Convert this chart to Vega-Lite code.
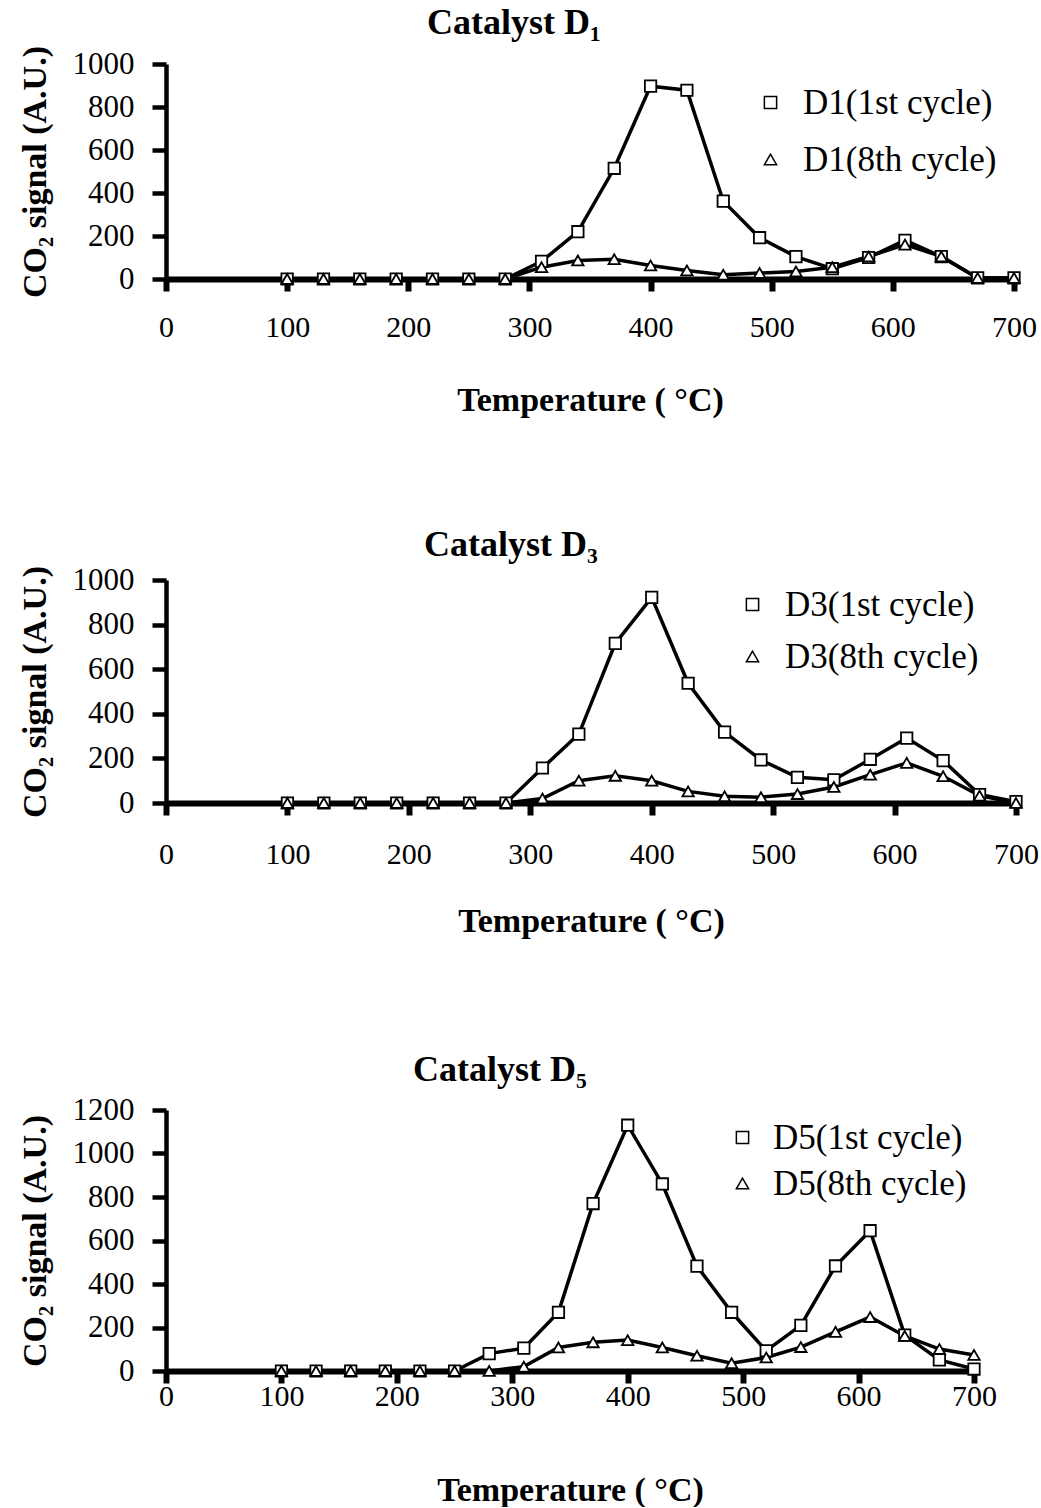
{
  "$schema": "https://vega.github.io/schema/vega-lite/v6.json",
  "padding": {"left": 18, "top": 4, "right": 0, "bottom": 0},
  "background": "white",
  "spacing": 110,
  "resolve": {"scale": {"shape": "independent"}, "legend": {"shape": "independent"}},
  "datasets": {
    "d1": [
      {"temperature": 100, "series": "D1(1st cycle)", "signal": 0},
      {"temperature": 130, "series": "D1(1st cycle)", "signal": 0},
      {"temperature": 160, "series": "D1(1st cycle)", "signal": 0},
      {"temperature": 190, "series": "D1(1st cycle)", "signal": 0},
      {"temperature": 220, "series": "D1(1st cycle)", "signal": 0},
      {"temperature": 250, "series": "D1(1st cycle)", "signal": 0},
      {"temperature": 280, "series": "D1(1st cycle)", "signal": 0},
      {"temperature": 310, "series": "D1(1st cycle)", "signal": 82},
      {"temperature": 340, "series": "D1(1st cycle)", "signal": 220},
      {"temperature": 370, "series": "D1(1st cycle)", "signal": 515},
      {"temperature": 400, "series": "D1(1st cycle)", "signal": 897},
      {"temperature": 430, "series": "D1(1st cycle)", "signal": 878},
      {"temperature": 460, "series": "D1(1st cycle)", "signal": 362},
      {"temperature": 490, "series": "D1(1st cycle)", "signal": 192},
      {"temperature": 520, "series": "D1(1st cycle)", "signal": 104},
      {"temperature": 550, "series": "D1(1st cycle)", "signal": 48},
      {"temperature": 580, "series": "D1(1st cycle)", "signal": 100},
      {"temperature": 610, "series": "D1(1st cycle)", "signal": 180},
      {"temperature": 640, "series": "D1(1st cycle)", "signal": 104},
      {"temperature": 670, "series": "D1(1st cycle)", "signal": 5},
      {"temperature": 700, "series": "D1(1st cycle)", "signal": 5},
      {"temperature": 100, "series": "D1(8th cycle)", "signal": 0},
      {"temperature": 130, "series": "D1(8th cycle)", "signal": 0},
      {"temperature": 160, "series": "D1(8th cycle)", "signal": 0},
      {"temperature": 190, "series": "D1(8th cycle)", "signal": 0},
      {"temperature": 220, "series": "D1(8th cycle)", "signal": 0},
      {"temperature": 250, "series": "D1(8th cycle)", "signal": 0},
      {"temperature": 280, "series": "D1(8th cycle)", "signal": 0},
      {"temperature": 310, "series": "D1(8th cycle)", "signal": 55},
      {"temperature": 340, "series": "D1(8th cycle)", "signal": 86},
      {"temperature": 370, "series": "D1(8th cycle)", "signal": 92},
      {"temperature": 400, "series": "D1(8th cycle)", "signal": 63},
      {"temperature": 430, "series": "D1(8th cycle)", "signal": 40},
      {"temperature": 460, "series": "D1(8th cycle)", "signal": 20},
      {"temperature": 490, "series": "D1(8th cycle)", "signal": 28},
      {"temperature": 520, "series": "D1(8th cycle)", "signal": 35},
      {"temperature": 550, "series": "D1(8th cycle)", "signal": 55},
      {"temperature": 580, "series": "D1(8th cycle)", "signal": 105},
      {"temperature": 610, "series": "D1(8th cycle)", "signal": 160},
      {"temperature": 640, "series": "D1(8th cycle)", "signal": 105},
      {"temperature": 670, "series": "D1(8th cycle)", "signal": 5},
      {"temperature": 700, "series": "D1(8th cycle)", "signal": 5}
    ],
    "d3": [
      {"temperature": 100, "series": "D3(1st cycle)", "signal": 0},
      {"temperature": 130, "series": "D3(1st cycle)", "signal": 0},
      {"temperature": 160, "series": "D3(1st cycle)", "signal": 0},
      {"temperature": 190, "series": "D3(1st cycle)", "signal": 0},
      {"temperature": 220, "series": "D3(1st cycle)", "signal": 0},
      {"temperature": 250, "series": "D3(1st cycle)", "signal": 0},
      {"temperature": 280, "series": "D3(1st cycle)", "signal": 0},
      {"temperature": 310, "series": "D3(1st cycle)", "signal": 157},
      {"temperature": 340, "series": "D3(1st cycle)", "signal": 309},
      {"temperature": 370, "series": "D3(1st cycle)", "signal": 716},
      {"temperature": 400, "series": "D3(1st cycle)", "signal": 922},
      {"temperature": 430, "series": "D3(1st cycle)", "signal": 537},
      {"temperature": 460, "series": "D3(1st cycle)", "signal": 318},
      {"temperature": 490, "series": "D3(1st cycle)", "signal": 193},
      {"temperature": 520, "series": "D3(1st cycle)", "signal": 115},
      {"temperature": 550, "series": "D3(1st cycle)", "signal": 104},
      {"temperature": 580, "series": "D3(1st cycle)", "signal": 196},
      {"temperature": 610, "series": "D3(1st cycle)", "signal": 291},
      {"temperature": 640, "series": "D3(1st cycle)", "signal": 190},
      {"temperature": 670, "series": "D3(1st cycle)", "signal": 38},
      {"temperature": 700, "series": "D3(1st cycle)", "signal": 6},
      {"temperature": 100, "series": "D3(8th cycle)", "signal": 0},
      {"temperature": 130, "series": "D3(8th cycle)", "signal": 0},
      {"temperature": 160, "series": "D3(8th cycle)", "signal": 0},
      {"temperature": 190, "series": "D3(8th cycle)", "signal": 0},
      {"temperature": 220, "series": "D3(8th cycle)", "signal": 0},
      {"temperature": 250, "series": "D3(8th cycle)", "signal": 0},
      {"temperature": 280, "series": "D3(8th cycle)", "signal": 0},
      {"temperature": 310, "series": "D3(8th cycle)", "signal": 20},
      {"temperature": 340, "series": "D3(8th cycle)", "signal": 100},
      {"temperature": 370, "series": "D3(8th cycle)", "signal": 122},
      {"temperature": 400, "series": "D3(8th cycle)", "signal": 100},
      {"temperature": 430, "series": "D3(8th cycle)", "signal": 52},
      {"temperature": 460, "series": "D3(8th cycle)", "signal": 30},
      {"temperature": 490, "series": "D3(8th cycle)", "signal": 26},
      {"temperature": 520, "series": "D3(8th cycle)", "signal": 40},
      {"temperature": 550, "series": "D3(8th cycle)", "signal": 72},
      {"temperature": 580, "series": "D3(8th cycle)", "signal": 127},
      {"temperature": 610, "series": "D3(8th cycle)", "signal": 180},
      {"temperature": 640, "series": "D3(8th cycle)", "signal": 120},
      {"temperature": 670, "series": "D3(8th cycle)", "signal": 33},
      {"temperature": 700, "series": "D3(8th cycle)", "signal": 0}
    ],
    "d5": [
      {"temperature": 100, "series": "D5(1st cycle)", "signal": 0},
      {"temperature": 130, "series": "D5(1st cycle)", "signal": 0},
      {"temperature": 160, "series": "D5(1st cycle)", "signal": 0},
      {"temperature": 190, "series": "D5(1st cycle)", "signal": 0},
      {"temperature": 220, "series": "D5(1st cycle)", "signal": 0},
      {"temperature": 250, "series": "D5(1st cycle)", "signal": 0},
      {"temperature": 280, "series": "D5(1st cycle)", "signal": 80},
      {"temperature": 310, "series": "D5(1st cycle)", "signal": 105},
      {"temperature": 340, "series": "D5(1st cycle)", "signal": 270},
      {"temperature": 370, "series": "D5(1st cycle)", "signal": 770},
      {"temperature": 400, "series": "D5(1st cycle)", "signal": 1130},
      {"temperature": 430, "series": "D5(1st cycle)", "signal": 860},
      {"temperature": 460, "series": "D5(1st cycle)", "signal": 482},
      {"temperature": 490, "series": "D5(1st cycle)", "signal": 270},
      {"temperature": 520, "series": "D5(1st cycle)", "signal": 93},
      {"temperature": 550, "series": "D5(1st cycle)", "signal": 210},
      {"temperature": 580, "series": "D5(1st cycle)", "signal": 483},
      {"temperature": 610, "series": "D5(1st cycle)", "signal": 645},
      {"temperature": 640, "series": "D5(1st cycle)", "signal": 165},
      {"temperature": 670, "series": "D5(1st cycle)", "signal": 51},
      {"temperature": 700, "series": "D5(1st cycle)", "signal": 9},
      {"temperature": 100, "series": "D5(8th cycle)", "signal": 0},
      {"temperature": 130, "series": "D5(8th cycle)", "signal": 0},
      {"temperature": 160, "series": "D5(8th cycle)", "signal": 0},
      {"temperature": 190, "series": "D5(8th cycle)", "signal": 0},
      {"temperature": 220, "series": "D5(8th cycle)", "signal": 0},
      {"temperature": 250, "series": "D5(8th cycle)", "signal": 0},
      {"temperature": 280, "series": "D5(8th cycle)", "signal": 0},
      {"temperature": 310, "series": "D5(8th cycle)", "signal": 20},
      {"temperature": 340, "series": "D5(8th cycle)", "signal": 108},
      {"temperature": 370, "series": "D5(8th cycle)", "signal": 132},
      {"temperature": 400, "series": "D5(8th cycle)", "signal": 142},
      {"temperature": 430, "series": "D5(8th cycle)", "signal": 108},
      {"temperature": 460, "series": "D5(8th cycle)", "signal": 70},
      {"temperature": 490, "series": "D5(8th cycle)", "signal": 36},
      {"temperature": 520, "series": "D5(8th cycle)", "signal": 62},
      {"temperature": 550, "series": "D5(8th cycle)", "signal": 110},
      {"temperature": 580, "series": "D5(8th cycle)", "signal": 180},
      {"temperature": 610, "series": "D5(8th cycle)", "signal": 248},
      {"temperature": 640, "series": "D5(8th cycle)", "signal": 161},
      {"temperature": 670, "series": "D5(8th cycle)", "signal": 101},
      {"temperature": 700, "series": "D5(8th cycle)", "signal": 74}
    ]
  },
  "vconcat": [
    {
      "width": 848,
      "height": 215,
      "title": {"text": "Catalyst D₁", "offset": 4, "dx": -76},
      "data": {"name": "d1"},
      "encoding": {
        "x": {"field": "temperature", "type": "quantitative", "scale": {"domain": [0, 700], "nice": false},
          "axis": {"values": [0, 100, 200, 300, 400, 500, 600, 700], "title": "Temperature ( °C)", "labelPadding": 21, "titlePadding": 41}},
        "y": {"field": "signal", "type": "quantitative", "scale": {"domain": [0, 1000], "nice": false},
          "axis": {"values": [0, 200, 400, 600, 800, 1000], "title": "CO₂ signal (A.U.)"}}
      },
      "layer": [
        {"mark": {"type": "line", "color": "black", "strokeWidth": 3.5}, "encoding": {"detail": {"field": "series"}}},
        {"mark": {"type": "point", "filled": true, "fill": "white", "stroke": "black", "strokeWidth": 1.8, "size": 130, "opacity": 1},
          "encoding": {"shape": {"field": "series", "type": "nominal",
            "scale": {"domain": ["D1(1st cycle)", "D1(8th cycle)"], "range": ["square", "triangle-up"]},
            "legend": {"title": null, "orient": "none", "legendX": 587, "legendY": 21, "rowPadding": 21, "labelLimit": 400,
              "symbolSize": 150,
              "labelFontSize": 35, "labelFont": "Liberation Serif", "labelColor": "black", "labelOffset": 15,
              "encode": {"symbols": {"strokeWidth": {"value": 2}}}}}}
        }
      ]
    },
    {
      "spacing": 114,
      "resolve": {"scale": {"shape": "independent"}, "legend": {"shape": "independent"}},
      "vconcat": [
        {
          "width": 850,
          "height": 223,
          "title": {"text": "Catalyst D₃", "offset": 0, "dx": -80},
          "data": {"name": "d3"},
          "encoding": {
            "x": {"field": "temperature", "type": "quantitative", "scale": {"domain": [0, 700], "nice": false},
              "axis": {"values": [0, 100, 200, 300, 400, 500, 600, 700], "title": "Temperature ( °C)", "labelPadding": 24, "titlePadding": 35}},
            "y": {"field": "signal", "type": "quantitative", "scale": {"domain": [0, 1000], "nice": false},
              "axis": {"values": [0, 200, 400, 600, 800, 1000], "title": "CO₂ signal (A.U.)"}}
          },
          "layer": [
            {"mark": {"type": "line", "color": "black", "strokeWidth": 3.5}, "encoding": {"detail": {"field": "series"}}},
            {"mark": {"type": "point", "filled": true, "fill": "white", "stroke": "black", "strokeWidth": 1.8, "size": 130, "opacity": 1},
              "encoding": {"shape": {"field": "series", "type": "nominal",
                "scale": {"domain": ["D3(1st cycle)", "D3(8th cycle)"], "range": ["square", "triangle-up"]},
                "legend": {"title": null, "orient": "none", "legendX": 569, "legendY": 7, "rowPadding": 16, "labelLimit": 400,
                  "symbolSize": 150,
                  "labelFontSize": 35, "labelFont": "Liberation Serif", "labelColor": "black", "labelOffset": 15,
                  "encode": {"symbols": {"strokeWidth": {"value": 2}}}}}}
            }
          ]
        },
        {
          "width": 808,
          "height": 261,
          "title": {"text": "Catalyst D₅", "offset": 5, "dx": -70},
          "data": {"name": "d5"},
          "encoding": {
            "x": {"field": "temperature", "type": "quantitative", "scale": {"domain": [0, 700], "nice": false},
              "axis": {"values": [0, 100, 200, 300, 400, 500, 600, 700], "title": "Temperature ( °C)", "labelPadding": -2, "titlePadding": 62}},
            "y": {"field": "signal", "type": "quantitative", "scale": {"domain": [0, 1200], "nice": false},
              "axis": {"values": [0, 200, 400, 600, 800, 1000, 1200], "title": "CO₂ signal (A.U.)"}}
          },
          "layer": [
            {"mark": {"type": "line", "color": "black", "strokeWidth": 3.5}, "encoding": {"detail": {"field": "series"}}},
            {"mark": {"type": "point", "filled": true, "fill": "white", "stroke": "black", "strokeWidth": 1.8, "size": 130, "opacity": 1},
              "encoding": {"shape": {"field": "series", "type": "nominal",
                "scale": {"domain": ["D5(1st cycle)", "D5(8th cycle)"], "range": ["square", "triangle-up"]},
                "legend": {"title": null, "orient": "none", "legendX": 559, "legendY": 10, "rowPadding": 10, "labelLimit": 400,
                  "symbolSize": 150,
                  "labelFontSize": 35, "labelFont": "Liberation Serif", "labelColor": "black", "labelOffset": 13,
                  "encode": {"symbols": {"strokeWidth": {"value": 2}}}}}}
            }
          ]
        }
      ]
    }
  ],
  "config": {
    "view": {"stroke": null},
    "font": "Liberation Serif",
    "title": {"font": "Liberation Serif", "fontSize": 36, "fontWeight": "bold", "color": "black"},
    "axis": {"grid": false, "domainColor": "black", "tickColor": "black", "labelColor": "black", "titleColor": "black", "format": "d",
      "labelFont": "Liberation Serif", "titleFont": "Liberation Serif", "labelFontSize": 30, "titleFontSize": 34, "titleFontWeight": "bold", "labelFlush": false},
    "axisX": {"domainWidth": 6, "tickWidth": 6, "tickSize": 12},
    "axisY": {"domainWidth": 4.5, "tickWidth": 4.5, "tickSize": 14, "labelPadding": 18, "titlePadding": 20, "labelFontSize": 31}
  }
}
